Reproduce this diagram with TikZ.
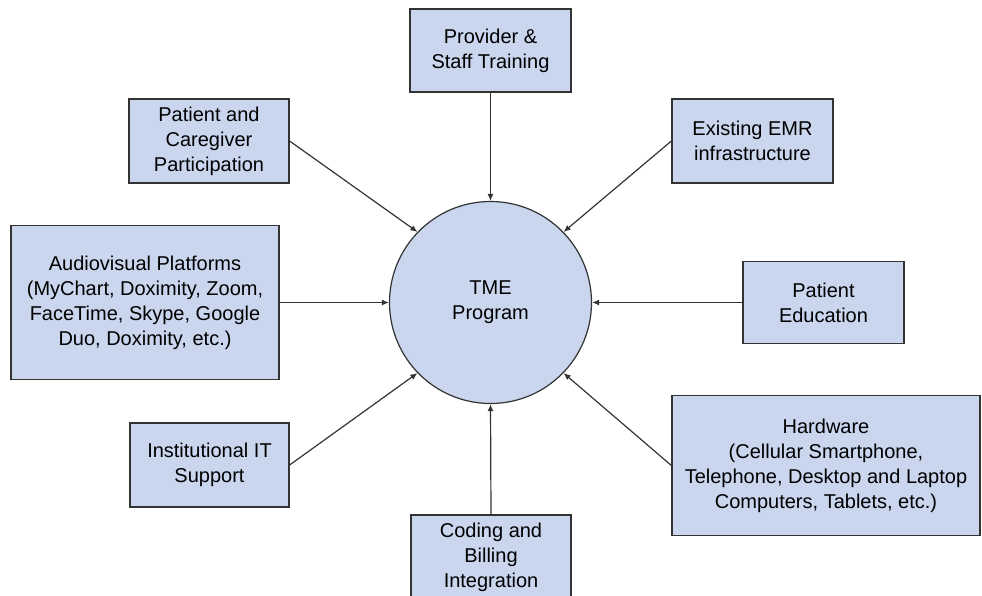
\documentclass[tikz,border=0pt]{standalone}
\usepackage{fontspec}
\setmainfont{Liberation Sans}
\usetikzlibrary{arrows.meta}
\definecolor{boxfill}{HTML}{C9D6EE}
\definecolor{edge}{HTML}{333333}
\tikzset{
  boxnode/.style={draw=edge, fill=boxfill, line width=1.2pt, align=center, inner sep=0pt,
    font=\fontsize{20}{25}\selectfont, text=black},
  conn/.style={draw=edge, line width=1.2pt, -{Latex[length=7pt,width=6pt]}},
}
\begin{document}
\begin{tikzpicture}[x=1pt,y=-1pt]
\useasboundingbox (0,0) rectangle (982,595);
\node[boxnode, circle, minimum size=202pt] (tme) at (490.5,302.5) {TME\\Program};
\node[boxnode, minimum width=161pt, minimum height=83pt] (prov) at (490.5,50.5) {Provider \&\\Staff Training};
\node[boxnode, minimum width=160pt, minimum height=84pt] (pcp) at (209,141) {Patient and\\Caregiver\\Participation};
\node[boxnode, minimum width=161pt, minimum height=84pt] (emr) at (752.5,141) {Existing EMR\\infrastructure};
\node[boxnode, minimum width=268pt, minimum height=154pt] (av) at (145,302.5) {Audiovisual Platforms\\(MyChart, Doximity, Zoom,\\FaceTime, Skype, Google\\Duo, Doximity, etc.)};
\node[boxnode, minimum width=161pt, minimum height=82pt] (ped) at (823.5,302.5) {Patient\\Education};
\node[boxnode, minimum width=159pt, minimum height=84pt] (its) at (209.5,465) {Institutional IT\\Support};
\node[boxnode, minimum width=308pt, minimum height=140pt] (hw) at (826,465.5) {Hardware\\(Cellular Smartphone,\\Telephone, Desktop and Laptop\\Computers, Tablets, etc.)};
\node[boxnode, minimum width=160pt, minimum height=84pt] (cod) at (491,557) {Coding and\\Billing\\Integration};
\draw[conn] (prov.south) -- (tme.north);
\draw[conn] (cod.north) -- (tme.south);
\draw[conn] (av.east) -- (tme.west);
\draw[conn] (ped.west) -- (tme.east);
\draw[conn] (pcp.east) -- (tme.136);
\draw[conn] (emr.west) -- (tme.44);
\draw[conn] (its.east) -- (tme.224);
\draw[conn] (hw.west) -- (tme.316);
\end{tikzpicture}
\end{document}
